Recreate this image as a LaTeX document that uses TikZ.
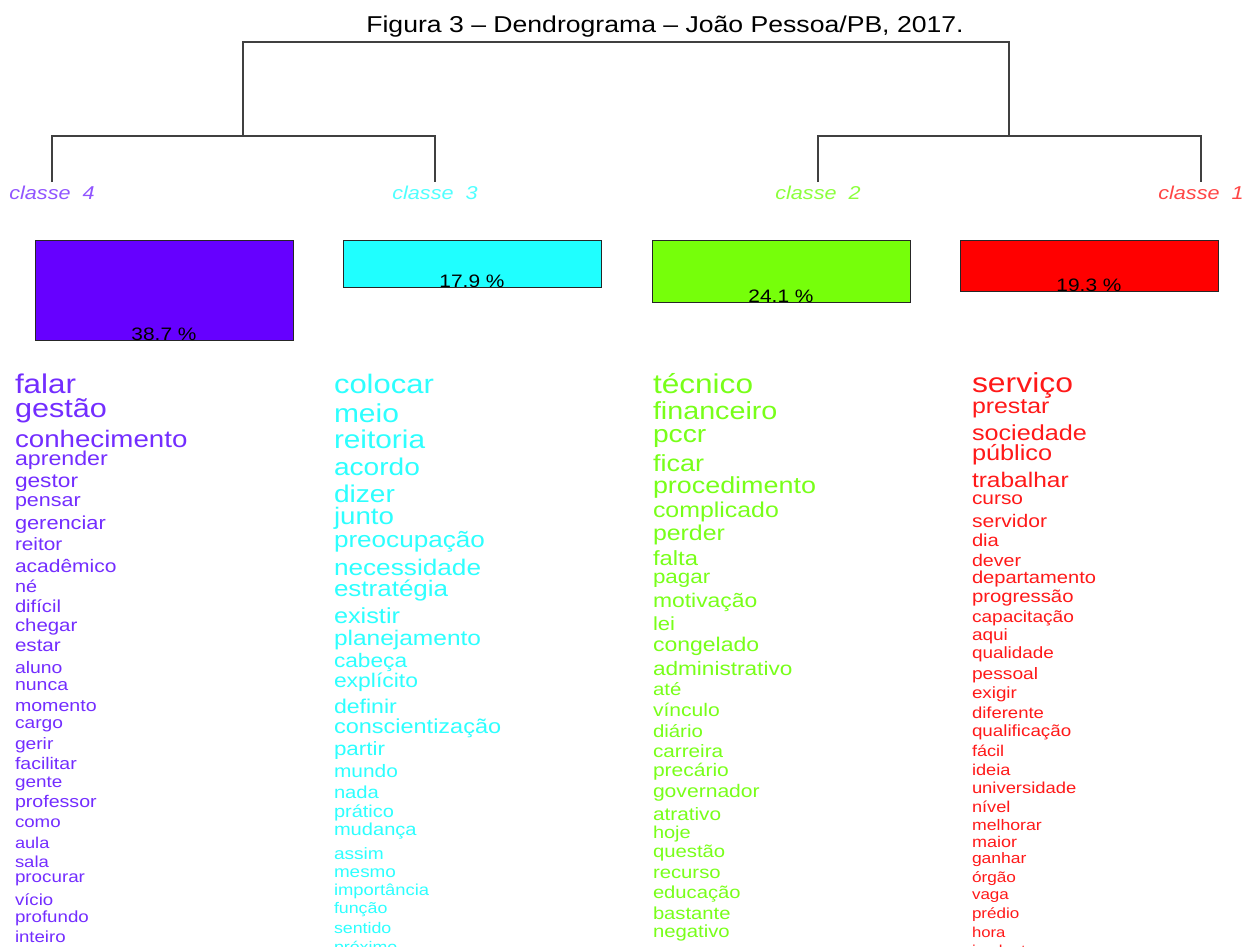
\documentclass[tikz,border=0pt]{standalone}
\usepackage{fontspec}
\def\strf{1.16}
\setmainfont{Liberation Sans}[FakeStretch=1.16]
\newcommand\fs[1]{\pgfmathsetmacro\tmpfs{#1/\strf}\fontsize{\tmpfs pt}{\tmpfs pt}\selectfont}
\definecolor{bP}{RGB}{102,0,255}
\definecolor{bC}{RGB}{31,255,255}
\definecolor{bG}{RGB}{118,255,10}
\definecolor{bR}{RGB}{255,0,0}
\definecolor{tP}{RGB}{115,45,255}
\definecolor{tC}{RGB}{45,255,255}
\definecolor{tG}{RGB}{120,255,25}
\definecolor{tR}{RGB}{255,25,25}
\definecolor{lP}{RGB}{145,85,255}
\definecolor{lC}{RGB}{80,255,255}
\definecolor{lG}{RGB}{140,255,60}
\definecolor{lR}{RGB}{255,70,70}
\tikzset{
  w/.style={anchor=base west, inner sep=0pt, outer sep=0pt},
  dline/.style={draw=black!75, line width=1.6pt},
  cbox/.style={draw=black!85, line width=1pt},
  clab/.style={anchor=base, inner sep=0pt, font=\fs{21.6}\itshape},
  pct/.style={anchor=base, inner sep=0pt, text=black, font=\fs{20.9}},
}
\begin{document}
\begin{tikzpicture}[x=1pt,y=-1pt]
\fill[white] (0,0) rectangle (1250,946);
\useasboundingbox (0,0) rectangle (1250,946);
% title
\node[anchor=base, inner sep=0pt, font=\fs{26.6}] (title) at (665,32) {Figura 3 -- Dendrograma -- João Pessoa/PB, 2017.};
% dendrogram
\coordinate (t1) at (243,42); \coordinate (t2) at (1009,42);
\coordinate (m1) at (243,136); \coordinate (m2) at (1009,136);
\coordinate (a1) at (52,136); \coordinate (a2) at (435,136);
\coordinate (b1) at (818,136); \coordinate (b2) at (1201,136);
\coordinate (a1e) at (52,182); \coordinate (a2e) at (435,182);
\coordinate (b1e) at (818,182); \coordinate (b2e) at (1201,182);
\draw[dline] (m1) -- (t1) -- (t2) -- (m2);
\draw[dline] (a1e) -- (a1) -- (a2) -- (a2e);
\draw[dline] (b1e) -- (b1) -- (b2) -- (b2e);
% class labels
\node[clab, text=lP] (c4) at (52,199) {classe\ \ 4};
\node[clab, text=lC] (c3) at (435,199) {classe\ \ 3};
\node[clab, text=lG] (c2) at (818,199) {classe\ \ 2};
\node[clab, text=lR] (c1) at (1201,199) {classe\ \ 1};
% boxes
\draw[cbox, fill=bP] (35,240) rectangle (293,340);
\draw[cbox, fill=bC] (343,240) rectangle (601,287);
\draw[cbox, fill=bG] (652,240) rectangle (910,302);
\draw[cbox, fill=bR] (960,240) rectangle (1218,291);
\node[pct] (k4) at (164,340) {38.7 \%};
\node[pct] (k3) at (472,287) {17.9 \%};
\node[pct] (k2) at (781,302) {24.1 \%};
\node[pct] (k1) at (1089,291) {19.3 \%};
% class 4 words
\foreach \t/\y/\s [count=\i] in {falar/393/31.4, gestão/417/30.6, conhecimento/447/27.7, aprender/465/23.2, gestor/487/22.7, pensar/506/21.5, gerenciar/529/21.8, reitor/550/20.8, acadêmico/572/21.0, né/592/19.8, difícil/612/20.2, chegar/631/20.4, estar/651/20.6, aluno/673/19.4, nunca/690/19.5, momento/711/19.6, cargo/728/19.2, gerir/749/19.2, facilitar/769/19.5, gente/787/18.9, professor/807/19.6, como/827/18.7, aula/848/18.2, sala/867/18.5, procurar/882/18.8, vício/905/18.6, profundo/922/18.7, inteiro/942/18.6}
  \node[w, text=tP, font=\fs{\s}] (p\i) at (15,\y) {\t};
% class 3 words
\foreach \t/\y/\s [count=\i] in {colocar/393/31.0, meio/422/30.0, reitoria/448/29.8, acordo/475/28.1, dizer/502/28.1, junto/524/27.7, preocupação/547/26.1, necessidade/575/26.2, estratégia/596/26.0, existir/623/25.3, planejamento/645/24.5, cabeça/667/22.7, explícito/687/22.9, definir/713/23.1, conscientização/733/23.5, partir/755/22.4, mundo/777/20.9, nada/798/20.2, prático/817/20.0, mudança/835/20.1, assim/859/19.1, mesmo/877/18.9, importância/895/18.4, função/913/17.8, sentido/933/17.8, próximo/952/17.8}
  \node[w, text=tC, font=\fs{\s}] (q\i) at (334,\y) {\t};
% class 2 words
\foreach \t/\y/\s [count=\i] in {técnico/393/31.6, financeiro/419/28.7, pccr/442/28.2, ficar/471/27.0, procedimento/493/26.9, complicado/517/24.9, perder/540/24.9, falta/565/23.8, pagar/583/22.4, motivação/607/22.9, lei/630/22.0, congelado/651/23.0, administrativo/675/22.6, até/695/20.4, vínculo/716/21.1, diário/737/20.4, carreira/757/20.7, precário/776/21.0, governador/797/21.1, atrativo/820/20.8, hoje/838/20.0, questão/857/20.3, recurso/878/20.3, educação/898/20.2, bastante/919/20.2, negativo/937/20.3}
  \node[w, text=tG, font=\fs{\s}] (g\i) at (653,\y) {\t};
% class 1 words
\foreach \t/\y/\s [count=\i] in {serviço/392/31.9, prestar/413/24.9, sociedade/440/25.2, público/460/25.3, trabalhar/487/24.5, curso/504/20.9, servidor/527/21.1, dia/546/20.2, dever/566/19.6, departamento/583/20.1, progressão/602/20.3, capacitação/622/19.1, aqui/640/19.0, qualidade/658/18.9, pessoal/679/19.2, exigir/698/18.8, diferente/718/18.5, qualificação/736/18.8, fácil/756/18.1, ideia/775/18.2, universidade/793/18.4, nível/812/18.2, melhorar/830/17.7, maior/847/18.0, ganhar/863/17.5, órgão/882/17.2, vaga/899/17.0, prédio/918/17.0, hora/937/16.7, implantar/955/16.7}
  \node[w, text=tR, font=\fs{\s}] (r\i) at (972,\y) {\t};
\end{tikzpicture}
\end{document}
